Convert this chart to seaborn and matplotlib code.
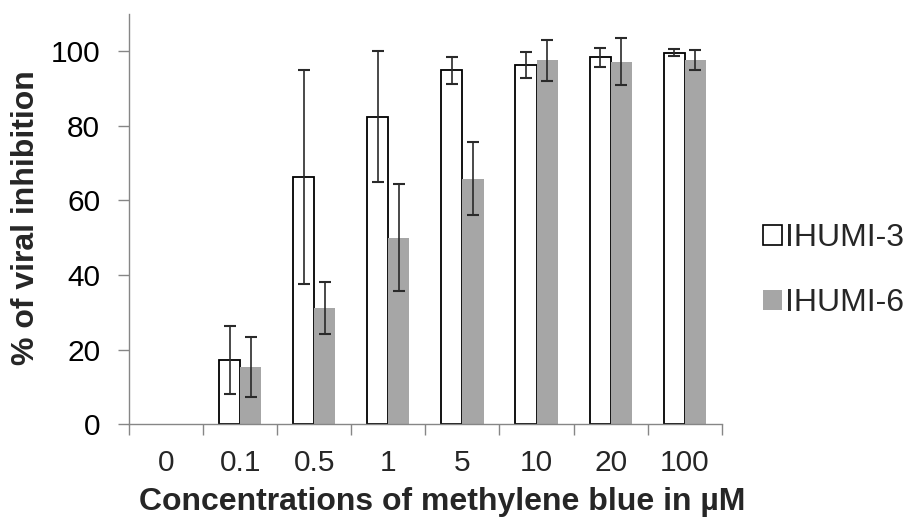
import numpy as np
import pandas as pd
import matplotlib
matplotlib.use("Agg")
import matplotlib.pyplot as plt
import seaborn as sns
from matplotlib.patches import Patch

concentrations = ["0", "0.1", "0.5", "1", "5", "10", "20", "100"]
strains = ["IHUMI-3", "IHUMI-6"]
ihumi3_mean = [0, 17.2, 66.2, 82.4, 94.9, 96.2, 98.3, 99.6]
ihumi3_err = [0, 9.2, 28.6, 17.6, 3.6, 3.5, 2.6, 1.0]
ihumi6_mean = [0, 15.3, 31.1, 50.0, 65.8, 97.6, 97.2, 97.6]
ihumi6_err = [0, 8.0, 6.9, 14.4, 9.8, 5.5, 6.4, 2.6]

df = pd.DataFrame({
    "conc": concentrations * 2,
    "strain": [strains[0]] * 8 + [strains[1]] * 8,
    "value": ihumi3_mean + ihumi6_mean,
    "err": ihumi3_err + ihumi6_err,
})

sns.set_style("ticks")
plt.rcParams["font.family"] = ["Liberation Sans", "DejaVu Sans"]

fill = {"IHUMI-3": "white", "IHUMI-6": "#a6a6a6"}
axis_grey = "#868686"

fig = plt.figure(figsize=(9.09, 5.21), dpi=100)
ax = fig.add_axes([0.142, 0.1856, 0.652, 0.788])

sns.barplot(data=df, x="conc", y="value", hue="strain", order=concentrations,
            hue_order=strains, palette=fill, width=0.57, errorbar=None,
            legend=False, ax=ax)

# outline the white bars, error bars from the drawn patches
for strain, container in zip(strains, ax.containers):
    sub = df[df["strain"] == strain].set_index("conc").loc[concentrations]
    for patch, (_, row) in zip(container.patches, sub.iterrows()):
        if strain == "IHUMI-3":
            patch.set_edgecolor("black")
            patch.set_linewidth(1.3)
        else:
            patch.set_edgecolor("none")
        if row["value"] == 0:
            patch.set_linewidth(0)
            continue
        xc = patch.get_x() + patch.get_width() / 2
        ax.errorbar(xc, row["value"], yerr=row["err"], fmt="none",
                    ecolor="#2a2a2a", elinewidth=1.2, capsize=4.5,
                    capthick=1.5, zorder=5)

ax.set_xlim(-0.5, 7.5)
ax.set_ylim(0, 110)
ax.set_yticks(np.arange(0, 101, 20))
ax.set_xticks(np.arange(-0.5, 8, 1))
ax.set_xticklabels([])
ax.set_xticks(np.arange(8), minor=True)
ax.set_xticklabels(concentrations, minor=True)
ax.set_xlabel("")
ax.set_ylabel("")

sns.despine(ax=ax)
for side in ["left", "bottom"]:
    ax.spines[side].set_color(axis_grey)
    ax.spines[side].set_linewidth(1)
ax.tick_params(axis="both", which="major", direction="out", length=7.8,
               width=1, color=axis_grey, labelsize=21.5, labelcolor="black")
ax.tick_params(axis="y", pad=13)
ax.tick_params(axis="x", which="minor", length=0, labelsize=21.5, pad=18)

fig.text(26 / 909, 1 - 218 / 521, "% of viral inhibition", rotation=90,
         ha="center", va="center", fontsize=23, fontweight="bold")
fig.text(442 / 909, 1 - 510 / 521, "Concentrations of methylene blue in µM",
         ha="center", va="baseline", fontsize=23, fontweight="bold")

handles = [Patch(facecolor="white", edgecolor="black", linewidth=1.2),
           Patch(facecolor="#a6a6a6", edgecolor="none")]
fig.legend(handles, strains, loc="center left",
           bbox_to_anchor=(763 / 909, 1 - 270.5 / 521), frameon=False,
           fontsize=23, handlelength=0.58, handleheight=0.58,
           handletextpad=0.12, labelspacing=1.1, borderpad=0,
           borderaxespad=0)

fig.savefig("out.png", dpi=100)
